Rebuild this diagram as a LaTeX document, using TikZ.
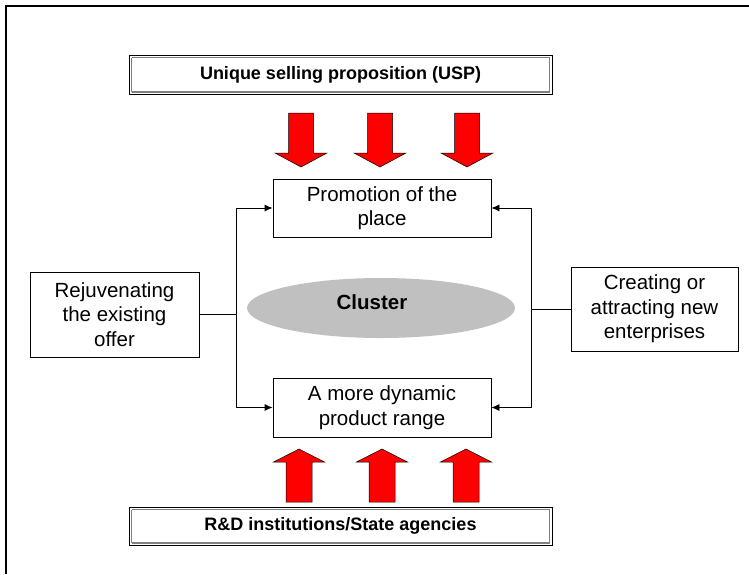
\documentclass[tikz,border=0pt]{standalone}
\usepackage{fontspec}
\setmainfont{Liberation Sans}
\usetikzlibrary{arrows.meta,shapes.geometric}
\tikzset{
  px/.style={x=1pt,y=-1pt},
  plainbox/.style={draw=black,line width=0.8pt,fill=white,align=center,inner sep=0pt,
    font=\fontsize{20.5}{24.5}\selectfont},
  titlebox/.style={draw=black,line width=1pt,fill=white,inner sep=0pt,
    font=\fontsize{18}{22}\selectfont\bfseries},
  conn/.style={line width=0.8pt},
  connarrow/.style={line width=0.8pt,-{Latex[length=8pt,width=7pt]}},
  redarrow/.style={fill=red,draw=black,line width=0.5pt},
}
\begin{document}
\begin{tikzpicture}[px]
\useasboundingbox (0,0) rectangle (749,574);
% outer frame (left and top edges)
\draw[line width=1.6pt] (6,574) -- (6,6) -- (749,6);

% title boxes
\node[titlebox,minimum width=423pt,minimum height=39pt] (usp) at (340.5,74.5) {Unique selling proposition (USP)};
\draw[gray,line width=1pt] ([xshift=3pt,yshift=-3pt]usp.north west) -- ([xshift=-3pt,yshift=-3pt]usp.north east) -- ([xshift=-3pt,yshift=3pt]usp.south east);
\draw[gray,line width=1pt] ([xshift=3pt,yshift=-3pt]usp.north west) -- ([xshift=3pt,yshift=3pt]usp.south west);
\draw[gray,line width=2.5pt] ([xshift=3pt,yshift=2.5pt]usp.south west) -- ([xshift=-3pt,yshift=2.5pt]usp.south east);

\node[titlebox,minimum width=423pt,minimum height=38pt] (rd) at (340.5,526) {R\&D institutions/State agencies};
\draw[gray,line width=1pt] ([xshift=3pt,yshift=-3pt]rd.north west) -- ([xshift=-3pt,yshift=-3pt]rd.north east) -- ([xshift=-3pt,yshift=3pt]rd.south east);
\draw[gray,line width=1pt] ([xshift=3pt,yshift=-3pt]rd.north west) -- ([xshift=3pt,yshift=3pt]rd.south west);
\draw[gray,line width=2.5pt] ([xshift=3pt,yshift=2.5pt]rd.south west) -- ([xshift=-3pt,yshift=2.5pt]rd.south east);

% central boxes
\node[plainbox,minimum width=218pt,minimum height=58pt] (promo) at (382,208) {Promotion of the\\place};
\node[plainbox,minimum width=218pt,minimum height=59pt] (dyn) at (382,407.5) {A more dynamic\\product range};
\node[plainbox,minimum width=169pt,minimum height=85pt] (rejuv) at (114.5,314.5) {Rejuvenating\\the existing\\offer};
\node[plainbox,minimum width=167pt,minimum height=84pt] (creat) at (654.5,309) {Creating or\\attracting new\\enterprises};

% cluster ellipse
\node[ellipse,fill={rgb,255:red,192;green,192;blue,192},draw=none,minimum width=268pt,minimum height=60pt,inner sep=0pt,
  font=\fontsize{20.5}{24.5}\selectfont\bfseries] (cluster) at (381,308) {};
\node[font=\fontsize{20.5}{24.5}\selectfont\bfseries] (clusterlabel) at (372,302) {Cluster};

% connectors
\coordinate (lj) at (236,314.5);
\coordinate (rj) at (531,309);
\draw[conn] (rejuv.east) -- (lj);
\draw[connarrow] (lj) |- (promo.west);
\draw[connarrow] (lj) |- (dyn.west);
\draw[conn] (creat.west) -- (rj);
\draw[connarrow] (rj) |- (promo.east);
\draw[connarrow] (rj) |- (dyn.east);

% red down arrows
\foreach \cx in {301,380,467} {
  \draw[redarrow] (\cx-12.5,113) -- (\cx+12.5,113) -- (\cx+12.5,153) -- (\cx+26,153) -- (\cx,167) -- (\cx-26,153) -- (\cx-12.5,153) -- cycle;
}
% red up arrows
\foreach \cx in {299,382,466} {
  \draw[redarrow] (\cx-13,502) -- (\cx+13,502) -- (\cx+13,462) -- (\cx+25.5,462) -- (\cx,449) -- (\cx-25.5,462) -- (\cx-13,462) -- cycle;
}
\end{tikzpicture}
\end{document}
